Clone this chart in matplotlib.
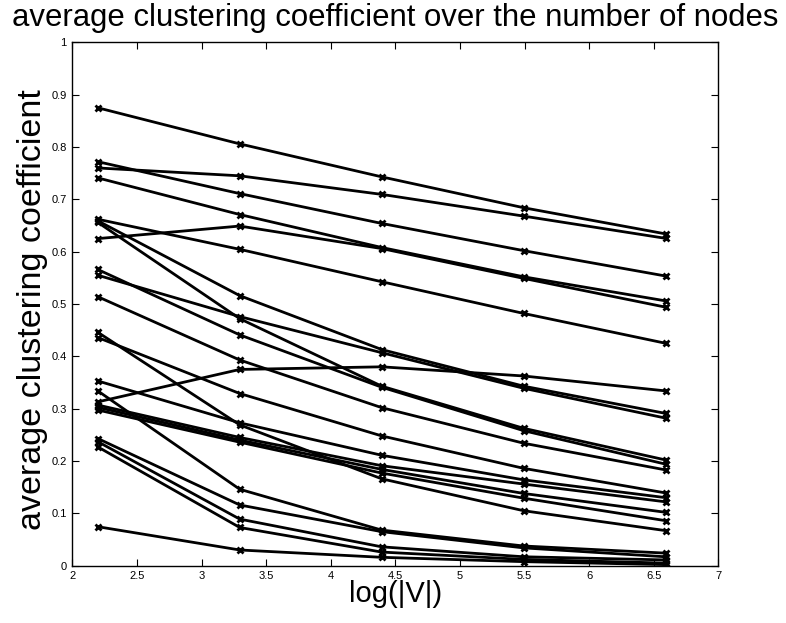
import numpy as np
import matplotlib
matplotlib.use("Agg")
import matplotlib.pyplot as plt

plt.rcParams['font.family'] = ['Liberation Sans', 'DejaVu Sans']

# log of graph size (3^2 .. 3^6 nodes)
log_v = [np.log(3 ** k) for k in range(2, 7)]

# average clustering coefficient, one list per graph family
cc_series = [
    [0.875, 0.806, 0.743, 0.684, 0.634],
    [0.772, 0.711, 0.654, 0.602, 0.5535],
    [0.760, 0.745, 0.7095, 0.668, 0.6255],
    [0.741, 0.671, 0.608, 0.552, 0.506],
    [0.625, 0.649, 0.606, 0.549, 0.494],
    [0.662, 0.6045, 0.5426, 0.482, 0.425],
    [0.659, 0.516, 0.413, 0.343, 0.291],
    [0.656, 0.472, 0.343, 0.2625, 0.202],
    [0.566, 0.441, 0.341, 0.258, 0.194],
    [0.555, 0.476, 0.407, 0.339, 0.282],
    [0.514, 0.393, 0.302, 0.234, 0.183],
    [0.446, 0.269, 0.166, 0.105, 0.067],
    [0.436, 0.329, 0.248, 0.186, 0.139],
    [0.353, 0.273, 0.211, 0.164, 0.130],
    [0.334, 0.146, 0.068, 0.0376, 0.024],
    [0.313, 0.375, 0.380, 0.3625, 0.334],
    [0.307, 0.245, 0.191, 0.156, 0.122],
    [0.3026, 0.240, 0.184, 0.138, 0.102],
    [0.2975, 0.236, 0.177, 0.129, 0.086],
    [0.243, 0.116, 0.065, 0.034, 0.017],
    [0.237, 0.089, 0.036, 0.017, 0.011],
    [0.227, 0.073, 0.026, 0.012, 0.005],
    [0.0745, 0.030, 0.016, 0.0077, 0.002],
]

x_ticks = [2, 2.5, 3, 3.5, 4, 4.5, 5, 5.5, 6, 6.5, 7]
x_tick_labels = ['2', '2.5', '3', '3.5', '4', '4.5', '5', '5.5', '6', '6.5', '7']
y_ticks = [0, 0.1, 0.2, 0.3, 0.4, 0.5, 0.6, 0.7, 0.8, 0.9, 1]
y_tick_labels = ['0', '0.1', '0.2', '0.3', '0.4', '0.5', '0.6', '0.7', '0.8', '0.9', '1']

fig = plt.figure(figsize=(7.86, 6.23), dpi=100)
ax = fig.add_axes([0.092, 0.092, 0.822, 0.840])

for cc in cc_series:
    ax.plot(log_v, cc, color='black', linewidth=2, marker='x',
            markersize=5, markeredgewidth=2)

ax.set_xlim(2, 7)
ax.set_ylim(0, 1)
ax.set_xticks(x_ticks)
ax.set_xticklabels(x_tick_labels)
ax.set_yticks(y_ticks)
ax.set_yticklabels(y_tick_labels)
ax.tick_params(direction='in', length=5, width=0.8, labelsize=8,
               top=True, right=True, pad=4)
for sp in ax.spines.values():
    sp.set_linewidth(1)

ax.set_title('average clustering coefficient over the number of nodes',
             fontsize=22.4, pad=12)
ax.set_xlabel('log(|V|)', fontsize=21, labelpad=-1)
ax.set_ylabel('average clustering coefficient', fontsize=24.5)
ax.yaxis.set_label_coords(-0.038, 0.489)

fig.savefig('out.png', dpi=100)
